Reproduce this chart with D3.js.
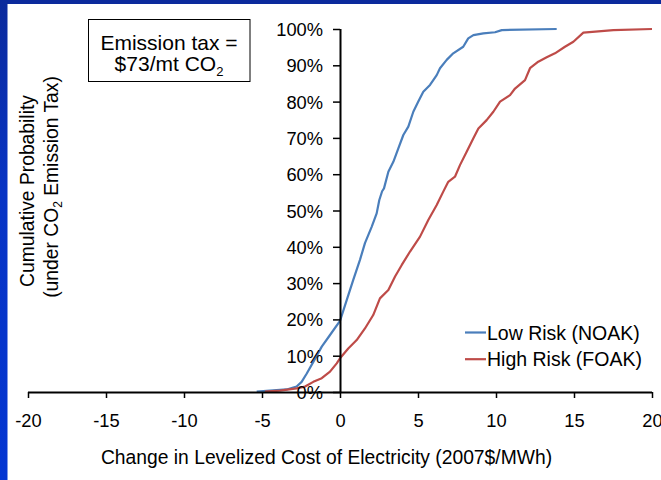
<!DOCTYPE html>
<html>
<head>
<meta charset="utf-8">
<script src="https://cdn.jsdelivr.net/npm/d3@7"></script>
<style>
  html, body { margin: 0; padding: 0; background: #ffffff; }
  svg { display: block; font-family: "Liberation Sans", Arial, sans-serif; }
</style>
</head>
<body>
<svg id="chart" width="661" height="480"></svg>
<script>
// ---- data ----
const xTicks = [-20, -15, -10, -5, 0, 5, 10, 15, 20];
const yTicks = [0, 0.1, 0.2, 0.3, 0.4, 0.5, 0.6, 0.7, 0.8, 0.9, 1.0];

const seriesNames = ["Low Risk (NOAK)", "High Risk (FOAK)"];

const lowRiskX = [-5.34, -4.49, -3.42, -2.78, -2.46, -2.13, -1.71, -1.17, -0.64, 0,
  0.43, 0.85, 1.28, 1.6, 2.03, 2.35, 2.52, 2.7, 2.82, 3.10, 3.42, 3.74, 4.06, 4.38,
  4.70, 5.02, 5.34, 5.77, 6.2, 6.41, 6.84, 7.26, 7.9, 8.22, 8.55, 9.19, 9.94, 10.37, 13.89];
const lowRiskP = [0.001, 0.004, 0.007, 0.015, 0.028, 0.051, 0.083, 0.125, 0.157, 0.196,
  0.253, 0.309, 0.364, 0.41, 0.455, 0.492, 0.529, 0.553, 0.561, 0.607, 0.634, 0.671, 0.708, 0.731,
  0.772, 0.800, 0.827, 0.846, 0.873, 0.892, 0.915, 0.933, 0.951, 0.974, 0.983, 0.988, 0.991, 0.997, 1.0];

const highRiskX = [-4.81, -3.85, -2.78, -2.24, -1.71, -1.17, -0.64, -0.21, 0, 0.53,
  1.07, 1.6, 2.13, 2.56, 3.1, 3.53, 3.96, 4.49, 5.13, 5.66, 6.2, 6.62, 6.94, 7.37,
  7.69, 8.12, 8.55, 8.87, 9.4, 9.83, 10.26, 10.9, 11.22, 11.86, 12.18, 12.71, 13.25,
  13.78, 14.42, 14.96, 15.6, 17.52, 20.0];
const highRiskP = [0.001, 0.004, 0.010, 0.015, 0.028, 0.038, 0.056, 0.079, 0.093, 0.12,
  0.143, 0.175, 0.212, 0.258, 0.281, 0.318, 0.35, 0.387, 0.428, 0.474, 0.515, 0.552, 0.579, 0.593,
  0.625, 0.662, 0.699, 0.726, 0.749, 0.772, 0.80, 0.818, 0.836, 0.859, 0.892, 0.91, 0.922,
  0.933, 0.951, 0.965, 0.99, 0.997, 1.0];

const colors = ["#4A7EBB", "#BE4B48"];

// ---- layout ----
const svg = d3.select("#chart");
const W = 661, H = 480;

// blue frame strips
const defs = svg.append("defs");
const grad = defs.append("linearGradient").attr("id", "sideGrad")
  .attr("x1", 0).attr("y1", 0).attr("x2", 0).attr("y2", 1);
grad.append("stop").attr("offset", "0%").attr("stop-color", "#0B2A9C");
grad.append("stop").attr("offset", "40%").attr("stop-color", "#0834C4");
grad.append("stop").attr("offset", "100%").attr("stop-color", "#0436D2");
svg.append("rect").attr("x", 0).attr("y", 0).attr("width", W).attr("height", 4).attr("fill", "#0B2A9C");
svg.append("rect").attr("x", 0).attr("y", 0).attr("width", 7.5).attr("height", H).attr("fill", "url(#sideGrad)");

const x = d3.scaleLinear().domain([-20, 20]).range([28, 652]);
const y = d3.scaleLinear().domain([0, 1]).range([392, 29]);

// ---- curves ----
const line = d3.line().x(d => x(d[0])).y(d => y(d[1]));
const series = [
  d3.zip(lowRiskX, lowRiskP),
  d3.zip(highRiskX, highRiskP)
];
series.forEach((s, i) => {
  svg.append("path").datum(s)
    .attr("d", line)
    .attr("fill", "none")
    .attr("stroke", colors[i])
    .attr("stroke-width", 2.2)
    .attr("stroke-linejoin", "round");
});

// ---- axes ----
const xAxis = d3.axisBottom(x).tickValues(xTicks).tickSize(6).tickFormat(d3.format("d"));
const gx = svg.append("g").attr("transform", `translate(0,${y(0)})`).call(xAxis);
gx.select(".domain").attr("stroke", "#000").attr("stroke-width", 2)
  .attr("d", `M${x(-20)},0.5H${x(20)}`);
gx.selectAll(".tick line").attr("stroke", "#000").attr("stroke-width", 1.5);
gx.selectAll(".tick text")
  .attr("y", 35).attr("dy", null)
  .attr("font-size", 18.3).attr("fill", "#000")
  .attr("font-family", "'Liberation Sans', Arial, sans-serif")
  .text(d => d < 0 ? "-" + Math.abs(d) : d);

const yAxis = d3.axisLeft(y).tickValues(yTicks).tickSize(7).tickFormat(d3.format(".0%"));
const gy = svg.append("g").attr("transform", `translate(${x(0)},0)`).call(yAxis);
gy.select(".domain").attr("stroke", "#000").attr("stroke-width", 2)
  .attr("d", `M0.5,${y(1)}V${y(0)}`);
gy.selectAll(".tick line").attr("stroke", "#000").attr("stroke-width", 1.5);
gy.selectAll(".tick text")
  .attr("x", -17).attr("dy", "0.36em")
  .attr("font-size", 18.3).attr("fill", "#000")
  .attr("font-family", "'Liberation Sans', Arial, sans-serif");

// ---- axis titles ----
svg.append("text")
  .attr("x", 326.5).attr("y", 464)
  .attr("text-anchor", "middle").attr("font-size", 19.3).attr("fill", "#000")
  .text("Change in Levelized Cost of Electricity (2007$/MWh)");

svg.append("text")
  .attr("transform", "translate(34,191) rotate(-90)")
  .attr("text-anchor", "middle").attr("font-size", 19.3).attr("fill", "#000")
  .text("Cumulative Probability");

const yt2 = svg.append("text")
  .attr("transform", "translate(57.5,187) rotate(-90)")
  .attr("text-anchor", "middle").attr("font-size", 19.3).attr("fill", "#000");
yt2.append("tspan").text("(under CO");
yt2.append("tspan").attr("font-size", 12).attr("dy", 4).text("2");
yt2.append("tspan").attr("dy", -4).text(" Emission Tax)");

// ---- annotation box ----
svg.append("rect")
  .attr("x", 88.5).attr("y", 19.5).attr("width", 161.5).attr("height", 62)
  .attr("fill", "#fff").attr("stroke", "#000").attr("stroke-width", 1);
svg.append("text").attr("x", 169).attr("y", 50).attr("text-anchor", "middle")
  .attr("font-size", 21).attr("fill", "#000").text("Emission tax =");
const t2 = svg.append("text").attr("x", 169).attr("y", 71).attr("text-anchor", "middle")
  .attr("font-size", 21).attr("fill", "#000");
t2.append("tspan").text("$73/mt CO");
t2.append("tspan").attr("font-size", 13).attr("dy", 5).text("2");

// ---- legend ----
const legend = svg.append("g");
seriesNames.forEach((name, i) => {
  const ly = 332.5 + i * 26.7;
  legend.append("line")
    .attr("x1", 465).attr("x2", 486).attr("y1", ly).attr("y2", ly)
    .attr("stroke", colors[i]).attr("stroke-width", 2.2);
  legend.append("text")
    .attr("x", 487).attr("y", ly + 7)
    .attr("font-size", 19.5).attr("fill", "#000")
    .text(name);
});
</script>
</body>
</html>
